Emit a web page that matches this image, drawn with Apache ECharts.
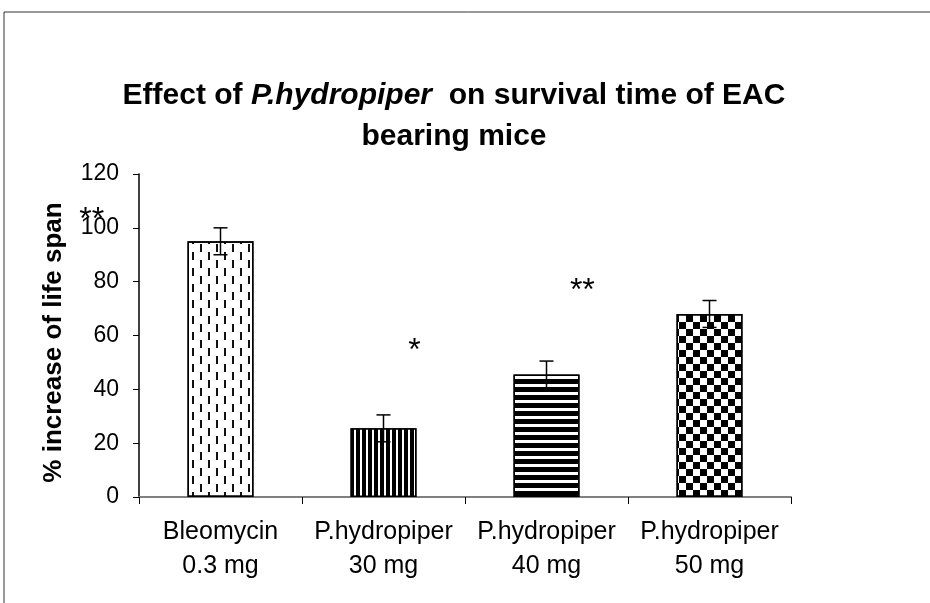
<!DOCTYPE html>
<html>
<head>
<meta charset="utf-8">
<script src="https://cdn.jsdelivr.net/npm/echarts@6/dist/echarts.min.js"></script>
<style>
  html, body { margin: 0; padding: 0; background: #fff; }
  #main { width: 930px; height: 603px; }
</style>
</head>
<body>
<div id="main"></div>
<script>
// chart data
var categories = ['Bleomycin\n0.3 mg', 'P.hydropiper\n30 mg', 'P.hydropiper\n40 mg', 'P.hydropiper\n50 mg'];
var meanValues = [95, 25.5, 45.5, 68];
var errorValues = [5, 5, 5, 5];
var yMin = 0, yMax = 120, yStep = 20;

// significance marks (x in category units, y in axis units)
var starLabels = ['**', '*', '**'];
var starX = [-0.79, 1.19, 2.22];
var starY = [103, 54, 76.5];

var font = 'Liberation Sans';

// fill patterns for the four bars
var patterns = [
    { color: '#fff', decal: { symbol: 'rect', color: '#111', dashArrayX: [[2, 14], [2, 14], [0, 8, 2, 6], [0, 8, 2, 6]], dashArrayY: [4, 0] } },
    { color: '#000', decal: { symbol: 'rect', color: '#fff', dashArrayX: [2, 4], dashArrayY: [10, 0] } },
    { color: '#000', decal: { symbol: 'rect', color: '#fff', dashArrayX: [10, 0], dashArrayY: [3, 5] } },
    { color: '#fff', decal: { symbol: 'rect', color: '#000', dashArrayX: [[7, 7], [0, 7, 7, 0]], dashArrayY: [7, 0] } }
];

var myChart;

document.addEventListener('DOMContentLoaded', function()
{
    myChart = echarts.init(document.getElementById('main'), null, { renderer: 'canvas' });

    var barData = meanValues.map(function(v, i) {
        return {
            value: v,
            itemStyle: {
                color: patterns[i].color,
                borderColor: '#000',
                borderWidth: 1.5,
                decal: patterns[i].decal
            }
        };
    });

    var errData = meanValues.map(function(v, i) {
        return [i, v];
    });

    var starData = starY.map(function(y) {
        return [0, y];
    });

    var option = {
        animation: false,
        backgroundColor: '#fff',
        title: {
            text: '{b|Effect of }{i|P.hydropiper}{b|  on survival time of EAC}\n{b|bearing mice}',
            left: 449,
            top: 70,
            textAlign: 'center',
            textStyle: {
                lineHeight: 41,
                rich: {
                    b: { fontFamily: font, fontWeight: 'bold', fontSize: 30, color: '#000', lineHeight: 41 },
                    i: { fontFamily: font, fontWeight: 'bold', fontStyle: 'italic', fontSize: 30, color: '#000', lineHeight: 41 }
                }
            }
        },
        graphic: [
            {
                type: 'rect',
                shape: { x: 4, y: 12, width: 960, height: 620 },
                style: { fill: null, stroke: '#333', lineWidth: 1 },
                silent: true
            }
        ],
        grid: {
            left: 139,
            right: 139,
            top: 174,
            bottom: 106
        },
        xAxis: {
            type: 'category',
            data: categories,
            axisLine: { lineStyle: { color: '#808080', width: 2 } },
            axisTick: { show: true, length: 7, lineStyle: { color: '#000', width: 1 } },
            axisLabel: {
                interval: 0,
                color: '#000',
                fontFamily: font,
                fontSize: 25,
                lineHeight: 34,
                margin: 18
            }
        },
        yAxis: {
            type: 'value',
            min: yMin,
            max: yMax,
            interval: yStep,
            name: '% increase of life span',
            nameLocation: 'middle',
            nameGap: 72,
            nameTextStyle: { fontFamily: font, fontWeight: 'bold', fontSize: 26, color: '#000', padding: [0, 14, 0, 0] },
            axisLine: { show: true, lineStyle: { color: '#000', width: 1.5 } },
            axisTick: { show: true, length: 6, lineStyle: { color: '#000', width: 1 } },
            splitLine: { show: false },
            axisLabel: { color: '#000', fontFamily: font, fontSize: 23, margin: 20 }
        },
        series: [
            {
                name: 'mean',
                type: 'bar',
                data: barData,
                barWidth: 66
            },
            {
                name: 'error',
                type: 'custom',
                data: errData,
                z: 5,
                renderItem: function(params, api) {
                    var i = params.dataIndex;
                    var lo = api.coord([i, meanValues[i] - errorValues[i]]);
                    var hi = api.coord([i, meanValues[i] + errorValues[i]]);
                    var half = 7;
                    var st = { stroke: '#000', lineWidth: 1.5 };
                    return {
                        type: 'group',
                        children: [
                            { type: 'line', shape: { x1: hi[0], y1: hi[1], x2: lo[0], y2: lo[1] }, style: st },
                            { type: 'line', shape: { x1: hi[0] - half, y1: hi[1], x2: hi[0] + half, y2: hi[1] }, style: st },
                            { type: 'line', shape: { x1: lo[0] - half, y1: lo[1], x2: lo[0] + half, y2: lo[1] }, style: st }
                        ]
                    };
                }
            },
            {
                name: 'stars',
                type: 'custom',
                data: starData,
                z: 6,
                renderItem: function(params, api) {
                    var i = params.dataIndex;
                    // interpolate between category centres for the fractional x position
                    var p0 = api.coord([0, starY[i]]);
                    var p1 = api.coord([1, starY[i]]);
                    var x = p0[0] + starX[i] * (p1[0] - p0[0]);
                    return {
                        type: 'text',
                        x: x,
                        y: p0[1],
                        style: {
                            text: starLabels[i],
                            fill: '#000',
                            font: '32px "Liberation Sans"',
                            align: 'center',
                            verticalAlign: 'middle'
                        }
                    };
                }
            }
        ]
    };

    myChart.setOption(option);
});
</script>
</body>
</html>
